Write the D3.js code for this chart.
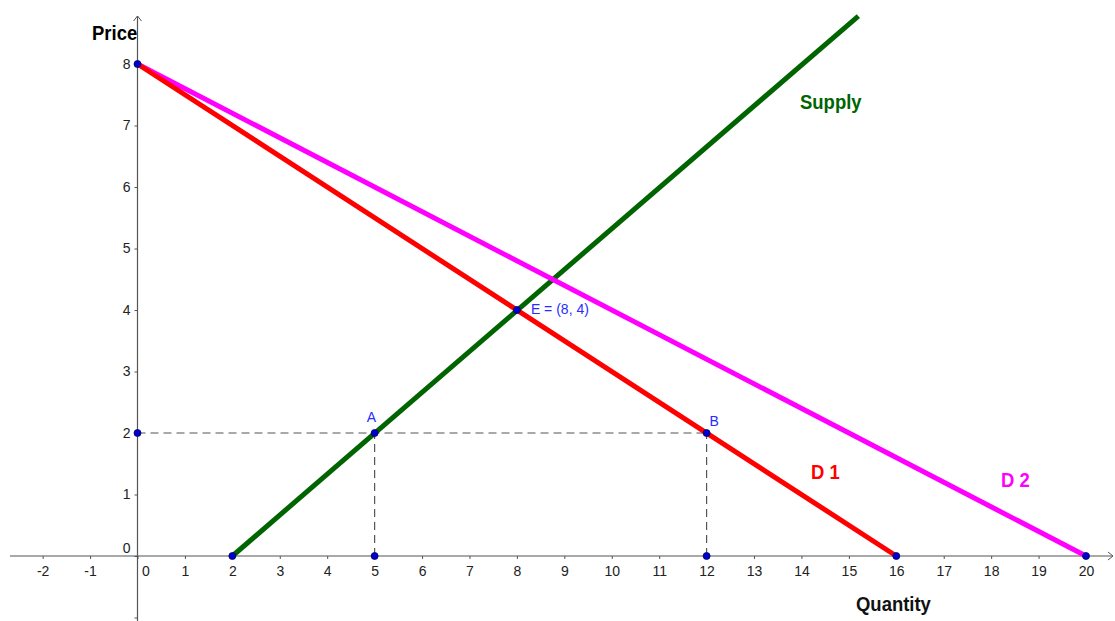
<!DOCTYPE html>
<html>
<head>
<meta charset="utf-8">
<script src="https://cdn.jsdelivr.net/npm/d3@7"></script>
<style>
  body { margin: 0; background: #fff; }
  svg { display: block; }
  .axis text { font-family: "Liberation Sans", Arial, sans-serif; font-size: 14px; fill: #222; }
  .lbl { font-family: "Liberation Sans", Arial, sans-serif; font-weight: bold; }
</style>
</head>
<body>
<svg id="chart" width="1115" height="621"></svg>
<script>
// data
let xTicks = [-2, -1, 0, 1, 2, 3, 4, 5, 6, 7, 8, 9, 10, 11, 12, 13, 14, 15, 16, 17, 18, 19, 20]
let yTicks = [-1, 0, 1, 2, 3, 4, 5, 6, 7, 8]
let supply = [[2, 0], [15.2, 8.78]]
let demand1 = [[0, 8], [16, 0]]
let demand2 = [[0, 8], [20, 0]]
let points = [[0, 8], [2, 0], [16, 0], [20, 0], [8, 4], [5, 2], [12, 2], [0, 2], [5, 0], [12, 0]]
let dashes = [[[0, 2], [12, 2]], [[5, 0], [5, 2]], [[12, 0], [12, 2]]]
let pointLabels = [{t: "E = (8, 4)", p: [8, 4]}, {t: "A", p: [5, 2]}, {t: "B", p: [12, 2]}]

let width = 1115, height = 621
let svg = d3.select("#chart")

let x = d3.scaleLinear().domain([0, 20]).range([137.5, 1086])
let y = d3.scaleLinear().domain([0, 8]).range([556, 64])

// axes
let gx = svg.append("g").attr("class", "axis")
    .attr("transform", `translate(0, ${y(0)})`)
    .call(d3.axisBottom(x).tickValues(xTicks).tickSize(3).tickPadding(7).tickFormat(d => d))
gx.select(".domain").remove()
gx.selectAll(".tick line").attr("stroke", "#555")
gx.selectAll(".tick text").filter(d => d === 0).attr("dx", 8)

let gy = svg.append("g").attr("class", "axis")
    .attr("transform", `translate(${x(0)}, 0)`)
    .call(d3.axisLeft(y).tickValues(yTicks).tickSize(3).tickPadding(4).tickFormat(d => d < 0 ? "" : d))
gy.select(".domain").remove()
gy.selectAll(".tick line").attr("stroke", "#555")
gy.selectAll(".tick text").filter(d => d === 0).attr("dy", "-0.25em")

svg.append("line").attr("x1", 10).attr("x2", width - 2).attr("y1", y(0)).attr("y2", y(0))
    .attr("stroke", "#555").attr("stroke-width", 1.2)
svg.append("path").attr("d", `M${width - 7},${y(0) - 4}L${width - 2},${y(0)}L${width - 7},${y(0) + 4}`)
    .attr("fill", "none").attr("stroke", "#555")
svg.append("line").attr("x1", x(0)).attr("x2", x(0)).attr("y1", 16).attr("y2", height)
    .attr("stroke", "#555").attr("stroke-width", 1.2)
svg.append("path").attr("d", `M${x(0) - 4},21L${x(0)},16L${x(0) + 4},21`)
    .attr("fill", "none").attr("stroke", "#555")

// dashed guides
let line = d3.line().x(d => x(d[0])).y(d => y(d[1]))
svg.append("g").selectAll("path").data(dashes).join("path")
    .attr("d", line).attr("fill", "none").attr("stroke", "#555")
    .attr("stroke-width", 1.2).attr("stroke-dasharray", "8,5")

// curves
let curves = [{d: supply, c: "#006400"}, {d: demand2, c: "#ff00ff"}, {d: demand1, c: "#ff0000"}]
svg.append("g").selectAll("path").data(curves).join("path")
    .attr("d", d => line(d.d)).attr("fill", "none").attr("stroke", d => d.c)
    .attr("stroke-width", 5)

// points
svg.append("g").selectAll("circle").data(points).join("circle")
    .attr("cx", d => x(d[0])).attr("cy", d => y(d[1])).attr("r", 3.5)
    .attr("fill", "#0000cc").attr("stroke", "#000066").attr("stroke-width", 0.8)

svg.append("g").selectAll("text").data(pointLabels).join("text")
    .attr("x", d => d.t === "A" ? x(d.p[0]) - 8 : d.t === "B" ? x(d.p[0]) + 3 : x(d.p[0]) + 14)
    .attr("y", d => d.t === "A" ? y(d.p[1]) - 11 : d.t === "B" ? y(d.p[1]) - 7 : y(d.p[1]) + 4)
    .text(d => d.t)
    .attr("font-family", "Liberation Sans, Arial, sans-serif").attr("font-size", 14)
    .attr("fill", "#2a2aff")

// labels (condensed bold, like the original narrow font)
let labels = [
    {t: "Price", x: 92, y: 40, c: "#000"},
    {t: "Quantity", x: 856, y: 611, c: "#111"},
    {t: "Supply", x: 800, y: 109, c: "#006400"},
    {t: "D 1", x: 811, y: 479, c: "#ff0000"},
    {t: "D 2", x: 1001, y: 487, c: "#ff00ff"}
]
svg.append("g").selectAll("text").data(labels).join("text")
    .attr("class", "lbl")
    .attr("transform", d => `translate(${d.x}, ${d.y}) scale(0.88, 1)`)
    .attr("font-size", 21).attr("fill", d => d.c).text(d => d.t)
</script>
</body>
</html>
